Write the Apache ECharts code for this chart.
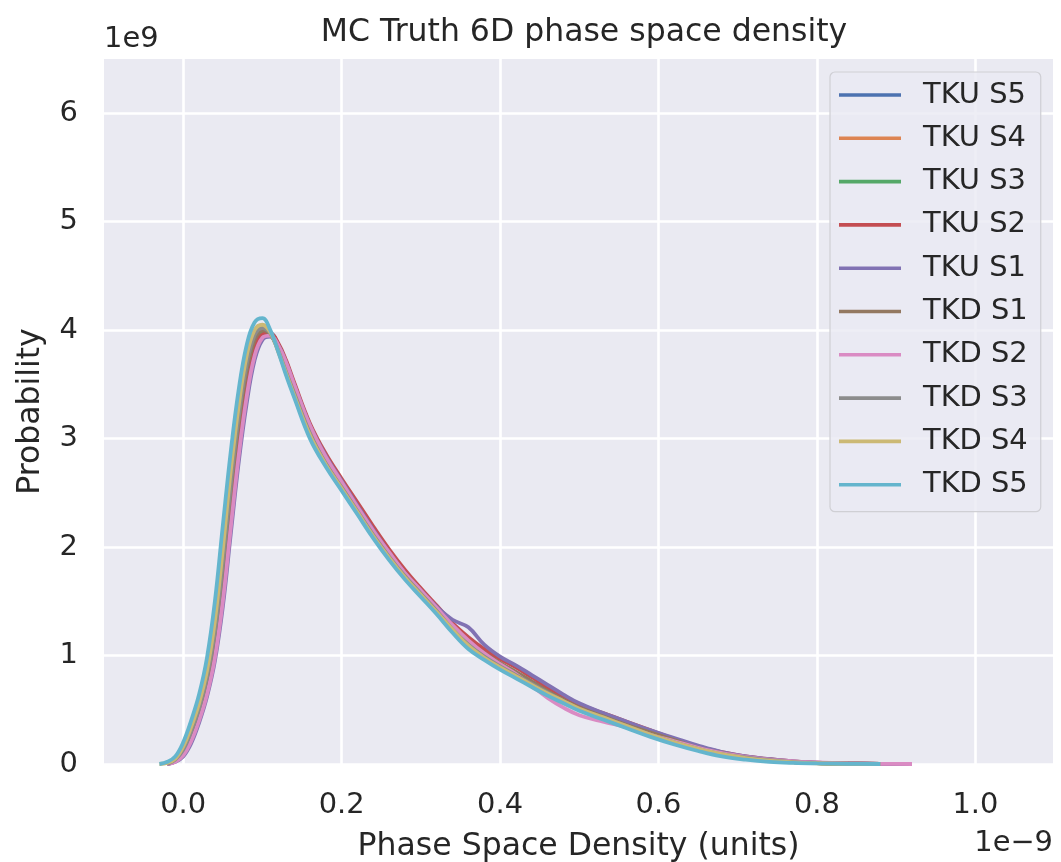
<!DOCTYPE html>
<html>
<head>
<meta charset="utf-8">
<script src="https://cdn.jsdelivr.net/npm/echarts@6/dist/echarts.min.js"></script>
<style>
  html, body { margin: 0; padding: 0; background: #ffffff; }
  #chart { width: 1061px; height: 862px; }
</style>
</head>
<body>
<div id="chart"></div>
<script>
// Sample positions of the density estimates (units of 1e-9)
const densityGrid = [
  -0.03, -0.02, -0.01, 0.00, 0.01, 0.02, 0.03, 0.04, 0.05, 0.06,
  0.07, 0.08, 0.09, 0.10, 0.11, 0.12, 0.13, 0.14, 0.16, 0.18,
  0.20, 0.22, 0.24, 0.26, 0.28, 0.30, 0.32, 0.34, 0.36, 0.38,
  0.40, 0.42, 0.44, 0.46, 0.48, 0.50, 0.53, 0.56, 0.59, 0.62,
  0.65, 0.68, 0.71, 0.74, 0.77, 0.80, 0.84, 0.88, 0.92
];

const seriesNames = ['TKU S5', 'TKU S4', 'TKU S3', 'TKU S2', 'TKU S1',
                     'TKD S1', 'TKD S2', 'TKD S3', 'TKD S4', 'TKD S5'];

const seriesColors = ['#4C72B0', '#DD8452', '#55A868', '#C44E52', '#8172B3',
                      '#937860', '#DA8BC3', '#8C8C8C', '#CCB974', '#64B5CD'];

// Probability density per station (units of 1e9)
const tkuS5 = [null, 0, 0.03, 0.10, 0.25, 0.45, 0.71, 1.08, 1.64, 2.33, 2.98, 3.49, 3.83, 3.97, 3.97, 3.86, 3.68, 3.48, 3.10, 2.82, 2.59, 2.37, 2.15, 1.94, 1.76, 1.60, 1.44, 1.27, 1.12, 1.01, 0.92, 0.84, 0.76, 0.68, 0.60, 0.53, 0.45, 0.37, 0.29, 0.22, 0.15, 0.10, 0.06, 0.035, 0.018, 0.008, 0.003, 0.001, null];
const tkuS4 = [null, 0.005, 0.04, 0.14, 0.31, 0.53, 0.82, 1.26, 1.90, 2.62, 3.25, 3.72, 3.98, 4.04, 3.98, 3.81, 3.61, 3.41, 3.04, 2.77, 2.55, 2.33, 2.11, 1.91, 1.73, 1.57, 1.41, 1.25, 1.11, 1.00, 0.91, 0.83, 0.75, 0.67, 0.59, 0.52, 0.44, 0.36, 0.28, 0.21, 0.15, 0.10, 0.06, 0.035, 0.018, 0.008, 0.003, 0.001, null];
const tkuS3 = [null, 0, 0.03, 0.11, 0.26, 0.47, 0.74, 1.12, 1.70, 2.40, 3.04, 3.54, 3.86, 3.99, 3.97, 3.85, 3.66, 3.46, 3.09, 2.81, 2.58, 2.36, 2.14, 1.94, 1.76, 1.60, 1.44, 1.28, 1.14, 1.03, 0.93, 0.84, 0.75, 0.67, 0.59, 0.52, 0.44, 0.36, 0.28, 0.21, 0.15, 0.10, 0.06, 0.035, 0.018, 0.008, 0.003, 0.001, null];
const tkuS2 = [null, 0, 0.025, 0.09, 0.23, 0.43, 0.68, 1.03, 1.57, 2.26, 2.92, 3.44, 3.80, 3.96, 3.97, 3.88, 3.72, 3.52, 3.14, 2.86, 2.63, 2.41, 2.19, 1.98, 1.79, 1.62, 1.46, 1.30, 1.17, 1.06, 0.97, 0.89, 0.80, 0.71, 0.63, 0.55, 0.47, 0.39, 0.31, 0.23, 0.16, 0.11, 0.07, 0.045, 0.025, 0.013, 0.006, 0.002, 0];
const tkuS1 = [null, 0, 0.02, 0.07, 0.19, 0.38, 0.62, 0.95, 1.45, 2.12, 2.78, 3.32, 3.72, 3.91, 3.94, 3.86, 3.70, 3.50, 3.12, 2.84, 2.61, 2.38, 2.16, 1.95, 1.76, 1.60, 1.45, 1.33, 1.26, 1.10, 0.99, 0.91, 0.82, 0.73, 0.64, 0.56, 0.47, 0.39, 0.31, 0.24, 0.17, 0.11, 0.07, 0.045, 0.025, 0.013, 0.006, 0.002, 0];
const tkdS1 = [null, 0, 0.035, 0.12, 0.28, 0.48, 0.76, 1.16, 1.78, 2.50, 3.14, 3.62, 3.91, 4.00, 3.96, 3.82, 3.63, 3.44, 3.08, 2.80, 2.57, 2.35, 2.13, 1.93, 1.75, 1.59, 1.43, 1.27, 1.13, 1.02, 0.93, 0.85, 0.76, 0.67, 0.59, 0.52, 0.44, 0.36, 0.29, 0.22, 0.15, 0.10, 0.06, 0.035, 0.02, 0.01, 0.004, 0.001, null];
const tkdS2 = [null, 0, 0.02, 0.08, 0.21, 0.40, 0.64, 0.98, 1.50, 2.18, 2.84, 3.38, 3.76, 3.93, 3.95, 3.86, 3.70, 3.50, 3.12, 2.83, 2.60, 2.37, 2.15, 1.95, 1.76, 1.60, 1.44, 1.28, 1.14, 1.02, 0.92, 0.83, 0.72, 0.61, 0.52, 0.45, 0.39, 0.34, 0.27, 0.21, 0.15, 0.10, 0.065, 0.04, 0.025, 0.014, 0.006, 0.002, 0];
const tkdS3 = [null, 0, 0.04, 0.13, 0.30, 0.51, 0.80, 1.22, 1.85, 2.57, 3.20, 3.68, 3.95, 4.02, 3.97, 3.81, 3.61, 3.42, 3.05, 2.77, 2.55, 2.33, 2.11, 1.91, 1.73, 1.57, 1.41, 1.24, 1.10, 0.99, 0.90, 0.82, 0.74, 0.66, 0.58, 0.51, 0.43, 0.35, 0.27, 0.20, 0.14, 0.09, 0.06, 0.035, 0.018, 0.008, 0.003, 0, null];
const tkdS4 = [0, 0.01, 0.05, 0.16, 0.34, 0.56, 0.86, 1.32, 1.98, 2.70, 3.30, 3.76, 4.00, 4.05, 3.98, 3.80, 3.60, 3.40, 3.03, 2.76, 2.54, 2.32, 2.10, 1.90, 1.72, 1.56, 1.40, 1.24, 1.09, 0.98, 0.89, 0.81, 0.73, 0.65, 0.58, 0.51, 0.43, 0.35, 0.27, 0.20, 0.14, 0.09, 0.055, 0.03, 0.015, 0.007, 0.002, 0, null];
const tkdS5 = [0, 0.02, 0.07, 0.20, 0.40, 0.64, 0.98, 1.50, 2.20, 2.88, 3.45, 3.86, 4.07, 4.11, 4.00, 3.80, 3.58, 3.38, 3.00, 2.74, 2.52, 2.30, 2.08, 1.88, 1.70, 1.54, 1.38, 1.21, 1.06, 0.96, 0.87, 0.79, 0.71, 0.63, 0.56, 0.49, 0.41, 0.33, 0.25, 0.18, 0.12, 0.07, 0.04, 0.02, 0.01, 0.005, 0.002, 0, null];

const seriesValues = [tkuS5, tkuS4, tkuS3, tkuS2, tkuS1, tkdS1, tkdS2, tkdS3, tkdS4, tkdS5];

// Axis ticks
const xTicks = [0.0, 0.2, 0.4, 0.6, 0.8, 1.0];
const yTicks = [0, 1, 2, 3, 4, 5, 6];

const FONT = '"DejaVu Sans", "Noto Sans", sans-serif';
const TEXT = '#262626';
const TICK_SIZE = 28.9;
const LABEL_SIZE = 31.5;

const chart = echarts.init(document.getElementById('chart'), null, { renderer: 'canvas' });

const series = seriesNames.map((name, i) => ({
  name: name,
  type: 'line',
  data: densityGrid.map((x, j) => [x, seriesValues[i][j]]),
  smooth: 0.4,
  symbol: 'none',
  showSymbol: false,
  connectNulls: false,
  lineStyle: { color: seriesColors[i], width: 3.8 },
  itemStyle: { color: seriesColors[i] },
  emphasis: { disabled: true },
  z: 2 + i
}));

chart.setOption({
  animation: false,
  backgroundColor: '#ffffff',
  color: seriesColors,
  title: {
    text: 'MC Truth 6D phase space density',
    left: 579,
    textAlign: 'center',
    top: 11,
    textStyle: { fontFamily: FONT, fontSize: LABEL_SIZE, fontWeight: 'normal', color: TEXT, lineHeight: 34 }
  },
  grid: {
    left: 104, right: 8, top: 59, bottom: 98,
    containLabel: false,
    outerBoundsMode: 'none',
    show: true,
    backgroundColor: '#EAEAF2',
    borderWidth: 0
  },
  legend: {
    orient: 'vertical',
    left: 830,
    top: 72,
    padding: [8.5, 13, 12.5, 9],
    icon: 'rect',
    itemWidth: 62,
    itemHeight: 3.6,
    itemGap: 14.3,
    backgroundColor: 'rgba(234,234,242,0.8)',
    borderColor: '#cfcfd4',
    borderWidth: 1.2,
    borderRadius: 5,
    textStyle: {
      fontFamily: FONT, fontSize: TICK_SIZE, color: TEXT, lineHeight: 29,
      padding: [0, 0, 0, 17]
    },
    data: seriesNames
  },
  xAxis: {
    type: 'value',
    min: -0.1,
    max: 1.098,
    name: 'Phase Space Density (units)',
    nameLocation: 'middle',
    nameGap: 67,
    nameMoveOverlap: false,
    nameTextStyle: { fontFamily: FONT, fontSize: LABEL_SIZE, color: TEXT },
    axisLine: { show: false },
    axisTick: { show: false, customValues: xTicks },
    axisLabel: {
      customValues: xTicks,
      margin: 27,
      fontFamily: FONT, fontSize: TICK_SIZE, color: TEXT,
      formatter: v => v.toFixed(1)
    },
    splitLine: { show: true, lineStyle: { color: '#ffffff', width: 2.6 } }
  },
  yAxis: {
    type: 'value',
    min: 0,
    max: 6.5,
    name: 'Probability',
    nameLocation: 'middle',
    nameGap: 57,
    nameMoveOverlap: false,
    nameTextStyle: { fontFamily: FONT, fontSize: LABEL_SIZE, color: TEXT },
    axisLine: { show: false },
    axisTick: { show: false, customValues: yTicks },
    axisLabel: {
      customValues: yTicks,
      margin: 26,
      fontFamily: FONT, fontSize: TICK_SIZE, color: TEXT,
      formatter: v => String(v)
    },
    splitLine: { show: true, lineStyle: { color: '#ffffff', width: 2.6 } }
  },
  graphic: [
    {
      type: 'text',
      style: { text: '1e9', x: 104, y: 39, font: TICK_SIZE + 'px ' + FONT, fill: TEXT, align: 'left', verticalAlign: 'middle' }
    },
    {
      type: 'text',
      style: { text: '1e\u22129', x: 1053, y: 843, font: TICK_SIZE + 'px ' + FONT, fill: TEXT, align: 'right', verticalAlign: 'middle' }
    }
  ],
  series: series
});
</script>
</body>
</html>
